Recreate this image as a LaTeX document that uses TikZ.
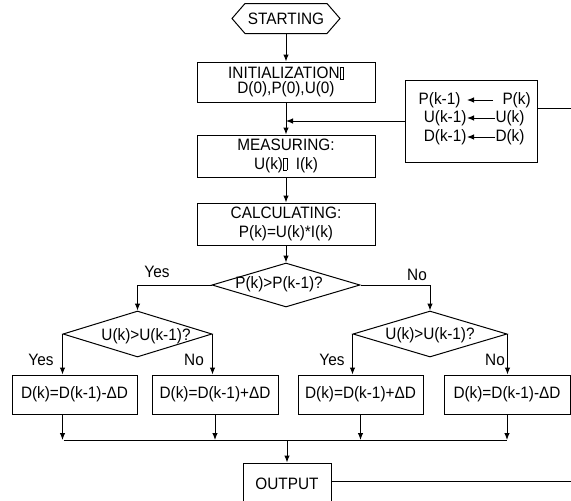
\documentclass[tikz,border=0pt]{standalone}
\usepackage{fontspec}
\setmainfont[FakeStretch=0.93]{Liberation Sans}
\usetikzlibrary{shapes.geometric,arrows.meta,calc}
\newcommand\tofubox{{\setlength\fboxsep{0pt}\setlength\fboxrule{0.6pt}\fbox{\rule{0pt}{11pt}\hspace{3pt}}}}
\begin{document}
\begin{tikzpicture}[x=1pt,y=-1pt, line width=1pt,
  font=\fontsize{16.5}{19}\selectfont,
  arr/.style={-{Latex[length=7pt,width=5.5pt]}},
  box/.style={draw, rectangle, inner sep=0pt, align=center},
  dia/.style={draw, diamond, inner sep=0pt},
  lbl/.style={inner sep=0pt}]
\useasboundingbox (0,0) rectangle (571,501);
\fill[white] (0,0) rectangle (571,501);

% start
\node[lbl, minimum width=107pt, minimum height=29pt] (start) at (286,18.5) {STARTING};
\draw (start.west) -- ($(start.north west)+(13,0)$) -- ($(start.north east)+(-13,0)$) -- (start.east) -- ($(start.south east)+(-13,0)$) -- ($(start.south west)+(13,0)$) -- cycle;

\node[box, minimum width=178pt, minimum height=40pt] (init) at (286,82) {INITIALIZATION\tofubox\\[-4pt] D(0),P(0),U(0)};
\node[box, minimum width=178pt, minimum height=42pt] (meas) at (286,156) {MEASURING:\\[0pt] U(k)\tofubox\ \ I(k)};
\node[box, minimum width=178pt, minimum height=42pt] (calc) at (286,224) {CALCULATING:\\[0pt] P(k)=U(k)*I(k)};

\node[dia, minimum width=148pt, minimum height=44pt] (dec) at (286,285) {};
\node[lbl] (dect) at (279,284) {P(k)>P(k-1)?};

% memory box
\node[box, minimum width=132pt, minimum height=82pt] (mem) at (471,121) {};
\node[lbl, anchor=east] (p1) at (461,100) {P(k-1)};
\node[lbl, anchor=west] (p2) at (502,100) {P(k)};
\draw[arr] ([xshift=-9pt]p2.west) -- ([xshift=6pt]p1.east);
\node[lbl, anchor=east] (u1) at (467,118) {U(k-1)};
\node[lbl, anchor=west] (u2) at (495,118) {U(k)};
\draw[arr] (u2.west) -- (u1.east);
\node[lbl, anchor=east] (d1) at (467,137) {D(k-1)};
\node[lbl, anchor=west] (d2) at (495,137) {D(k)};
\draw[arr] (d2.west) -- (d1.east);

\coordinate (memout) at (571,108);
\draw (mem.east |- memout) -- (memout);
\draw[arr] (mem.west) -- (mem.west -| init.south);

\draw[arr] (start.south) -- (init.north);
\draw[arr] (init.south) -- (meas.north);
\draw[arr] (meas.south) -- (calc.north);
\draw[arr] (calc.south) -- (dec.north);

% second-level decisions
\node[dia, minimum width=149pt, minimum height=46pt] (ldec) at (137.5,334) {};
\node[lbl] (ldect) at (146,336) {U(k)>U(k-1)?};
\node[dia, minimum width=154pt, minimum height=46pt] (rdec) at (430,334) {};
\node[lbl] (rdect) at (430,335) {U(k)>U(k-1)?};

\draw[arr] (dec.west) -| (ldec.north);
\draw[arr] (dec.east) -| (rdec.north);
\node[lbl] (y0) at (157,272) {Yes};
\node[lbl] (n0) at (417,275) {No};

% action boxes
\node[box, minimum width=125pt, minimum height=39pt] (b1) at (74.5,394.5) {D(k)=D(k-1)-ΔD};
\node[box, minimum width=126pt, minimum height=39pt] (b2) at (215,394.5) {D(k)=D(k-1)+ΔD};
\node[box, minimum width=125pt, minimum height=39pt] (b3) at (360.5,394.5) {D(k)=D(k-1)+ΔD};
\node[box, minimum width=126pt, minimum height=39pt] (b4) at (507,394.5) {D(k)=D(k-1)-ΔD};

\draw[arr] (ldec.west) -- (ldec.west |- b1.north);
\draw[arr] (ldec.east) -- (ldec.east |- b2.north);
\draw[arr] (rdec.west) -- (rdec.west |- b3.north);
\draw[arr] (rdec.east) -- (rdec.east |- b4.north);
\node[lbl] (y1) at (41,360) {Yes};
\node[lbl] (n1) at (194,360) {No};
\node[lbl] (y2) at (332,360) {Yes};
\node[lbl] (n2) at (495,360) {No};

% bus and output
\coordinate (busl) at (63.5,440);
\coordinate (busr) at (507,440);
\draw[arr] (ldec.west |- b1.south) -- (ldec.west |- busl);
\draw[arr] (b2.south) -- (b2.south |- busl);
\draw[arr] (b3.south) -- (b3.south |- busl);
\draw[arr] (b4.south) -- (b4.south |- busl);
\draw (busl) -- (busr);
\node[box, minimum width=88pt, minimum height=42pt] (out) at (287,484) {OUTPUT};
\draw[arr] (out.north |- busl) -- (out.north);
\coordinate (outr) at (571,481);
\draw (out.east |- outr) -- (outr);
\end{tikzpicture}
\end{document}
